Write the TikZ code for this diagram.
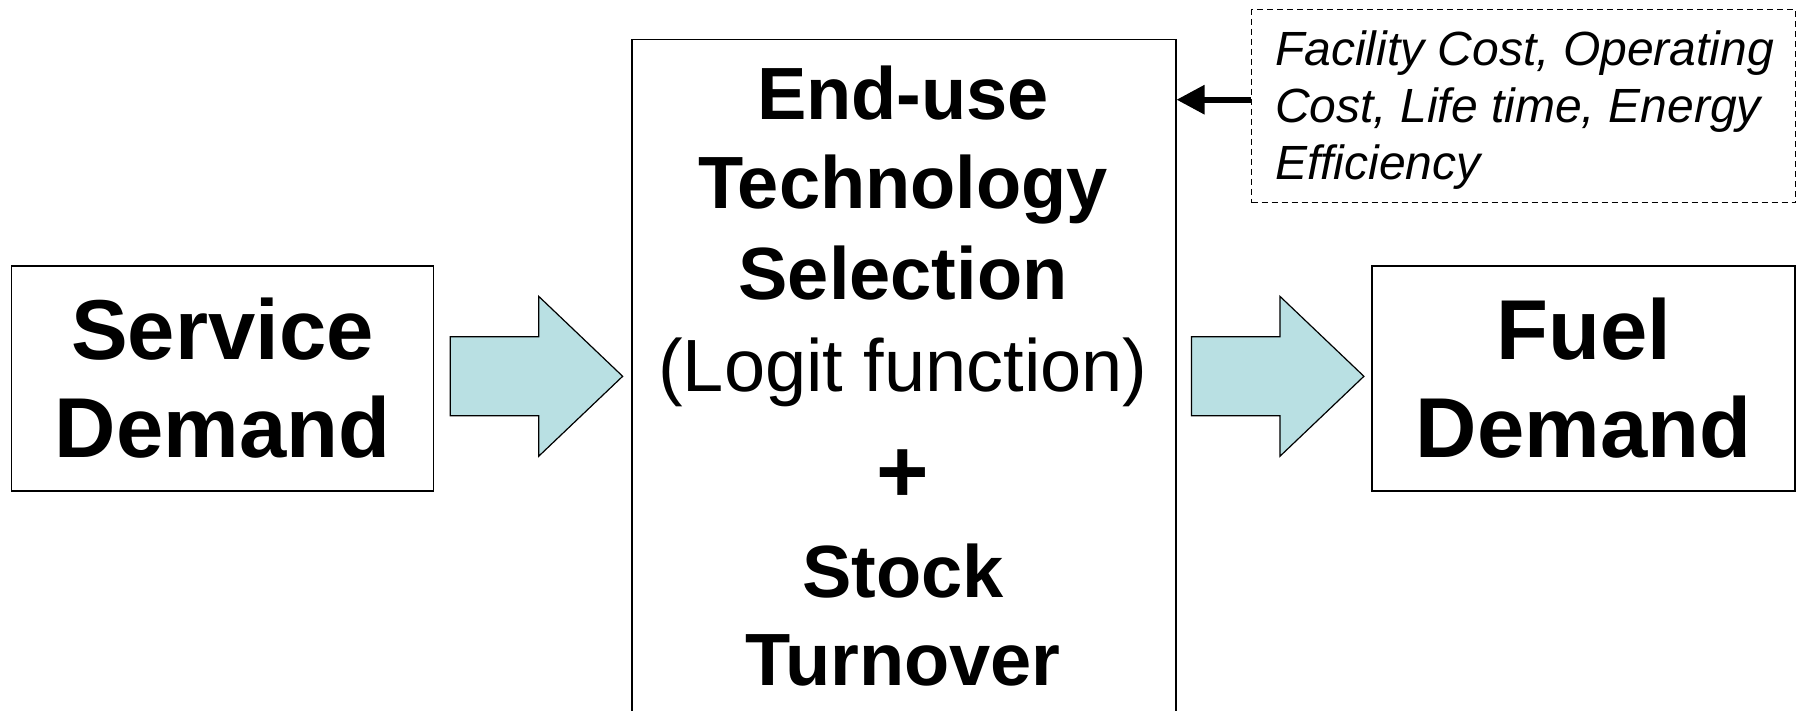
\documentclass[tikz,border=0pt]{standalone}
\usepackage{fontspec}
\setmainfont{Liberation Sans}
\usetikzlibrary{arrows.meta,calc}
\definecolor{flowfill}{RGB}{185,224,227}
\tikzset{
  plainbox/.style={draw=black, line width=1.5pt, inner sep=0pt, align=center},
  bigbold/.style={font=\fontsize{85}{98}\selectfont\bfseries},
  techline/.style={anchor=base, inner sep=0pt, font=\fontsize{74}{89}\selectfont\bfseries},
  flowarrow/.style={draw=black, line width=1.2pt, fill=flowfill, line join=miter},
  parambox/.style={draw=black, line width=1.2pt, dash pattern=on 6pt off 4pt, inner sep=0pt},
  paramtext/.style={inner sep=0pt, align=left, font=\fontsize{48}{57}\selectfont\itshape},
  feed/.style={line width=6pt, -{Triangle[length=28pt,width=28pt]}},
}
\begin{document}
\begin{tikzpicture}[x=1pt,y=-1pt]
\useasboundingbox (0,0) rectangle (1803,711);
\clip (0,0) rectangle (1803,711);

% input and output boxes
\node[plainbox, bigbold, minimum width=422pt, minimum height=225pt] (svc) at (222.5,378.3) {Service\\Demand};
\node[plainbox, bigbold, minimum width=423pt, minimum height=225pt] (fuel) at (1583.5,378.3) {Fuel\\Demand};

% central model box (runs past the lower edge)
\node[plainbox, minimum width=544pt, minimum height=681pt, anchor=north west] (tech) at (631,39) {};
\node[techline] (t1) at (903,120) {End-use};
\node[techline] (t2) at (903,209) {Technology};
\node[techline] (t3) at (903,299) {Selection};
\node[techline, font=\fontsize{74}{89}\selectfont\mdseries] (t4) at (903,391) {(Logit function)};
\node[techline, font=\fontsize{90}{90}\selectfont\bfseries] (t5) at (903,502) {+};
\node[techline] (t6) at (903,597) {Stock};
\node[techline] (t7) at (903,685) {Turnover};

% block arrows
\coordinate (a1) at ($(svc.east)+(16,-2)$);
\coordinate (a2) at ($(tech.east |- svc.east)+(15,-2)$);
\foreach \c in {a1,a2}{
  \draw[flowarrow, shift={(\c)}] (0,-39.5) -- (88.4,-39.5) -- (88.4,-80) -- (172.4,0)
    -- (88.4,80) -- (88.4,39.5) -- (0,39.5) -- cycle;
}

% parameter box feeding the model
\node[parambox, minimum width=544pt, minimum height=193pt, anchor=north west] (params) at (1251,9.2) {};
\node[paramtext, anchor=west] (ptext) at ($(params.west)+(24,4)$) {Facility Cost, Operating\\Cost, Life time, Energy\\Efficiency};
\coordinate (fs) at ($(params.west)+(0,-6.6)$);
\draw[feed] (fs) -- (fs -| tech.east);
\end{tikzpicture}
\end{document}
